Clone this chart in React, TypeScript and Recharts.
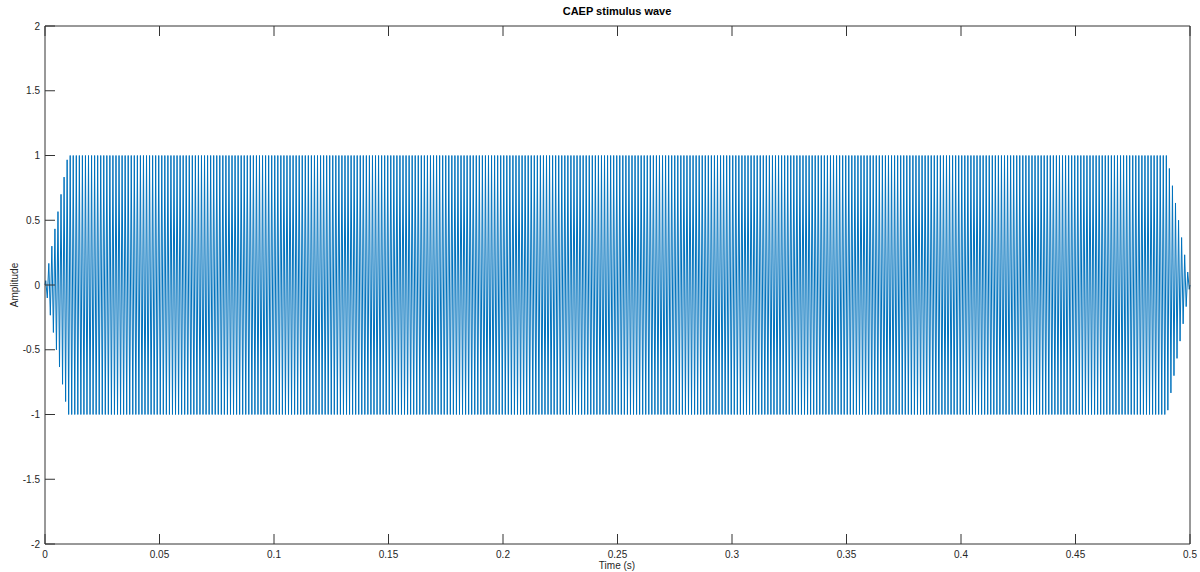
import React from 'react';
import { LineChart, Line, XAxis, YAxis } from 'recharts';

// Axis ticks
const TIME_TICKS = [0, 0.05, 0.1, 0.15, 0.2, 0.25, 0.3, 0.35, 0.4, 0.45, 0.5];
const AMP_TICKS = [-2, -1.5, -1, -0.5, 0, 0.5, 1, 1.5, 2];

// Stimulus envelope: 10 ms linear rise, plateau at 1, 10 ms fall
const ENVELOPE_TIME = [0, 0.01, 0.49, 0.5];
const ENVELOPE_AMP = [0, 1, 1, 0];

// Tone carrier (cycles per second), estimated from line spacing
const TONE_HZ = 750;
const DURATION = 0.5;

const envelopeAt = (t: number) => {
  for (let i = 0; i < ENVELOPE_TIME.length - 1; i++) {
    const t0 = ENVELOPE_TIME[i];
    const t1 = ENVELOPE_TIME[i + 1];
    if (t >= t0 && t <= t1) {
      const f = (t - t0) / (t1 - t0);
      return ENVELOPE_AMP[i] + f * (ENVELOPE_AMP[i + 1] - ENVELOPE_AMP[i]);
    }
  }
  return 0;
};

// peaks of the tone, alternating sign, scaled by the envelope
const halfCycles = Math.round(2 * TONE_HZ * DURATION);
const waveData: { t: number; amp: number }[] = [{ t: 0, amp: 0 }];
for (let k = 0; k < halfCycles; k++) {
  const t = (k + 0.5) / (2 * TONE_HZ);
  waveData.push({ t, amp: (k % 2 === 0 ? 1 : -1) * envelopeAt(t) });
}
waveData.push({ t: DURATION, amp: 0 });

const PLOT_LEFT = 45;
const PLOT_RIGHT = 1190;
const PLOT_TOP = 26;
const PLOT_BOTTOM = 544;
const TICK_LEN = 10;
const AXIS_COLOR = '#333333';
const FONT = '"Liberation Sans", Arial, Helvetica, sans-serif';

const BottomTick = (props: any) => {
  const { x, payload } = props;
  return (
    <g>
      <line x1={x} x2={x} y1={PLOT_BOTTOM} y2={PLOT_BOTTOM - TICK_LEN} stroke={AXIS_COLOR} />
      <text x={x} y={PLOT_BOTTOM + 14} textAnchor="middle" fontSize={10} fontFamily={FONT} fill="#262626">
        {String(payload.value)}
      </text>
    </g>
  );
};

const TopTick = (props: any) => {
  const { x } = props;
  return <line x1={x} x2={x} y1={PLOT_TOP} y2={PLOT_TOP + TICK_LEN} stroke={AXIS_COLOR} />;
};

const LeftTick = (props: any) => {
  const { y, payload } = props;
  return (
    <g>
      <line x1={PLOT_LEFT} x2={PLOT_LEFT + TICK_LEN} y1={y} y2={y} stroke={AXIS_COLOR} />
      <text x={PLOT_LEFT - 5} y={y} dy="0.35em" textAnchor="end" fontSize={10} fontFamily={FONT} fill="#262626">
        {String(payload.value)}
      </text>
    </g>
  );
};

const RightTick = (props: any) => {
  const { y } = props;
  return <line x1={PLOT_RIGHT} x2={PLOT_RIGHT - TICK_LEN} y1={y} y2={y} stroke={AXIS_COLOR} />;
};

export default function App() {
  return (
    <div style={{ position: 'absolute', left: 0, top: 0, width: 1200, height: 572, background: '#fff' }}>
      <LineChart
        width={1200}
        height={572}
        data={waveData}
        margin={{ top: PLOT_TOP - 2, right: 1200 - PLOT_RIGHT - 2, bottom: 572 - PLOT_BOTTOM - 20, left: PLOT_LEFT - 30 }}
      >
        <XAxis
          xAxisId="bottom"
          dataKey="t"
          type="number"
          domain={[0, 0.5]}
          ticks={TIME_TICKS}
          height={20}
          tickLine={false}
          tick={BottomTick}
          stroke={AXIS_COLOR}
          interval={0}
        />
        <XAxis
          xAxisId="top"
          orientation="top"
          dataKey="t"
          type="number"
          domain={[0, 0.5]}
          ticks={TIME_TICKS}
          height={2}
          tickLine={false}
          tick={TopTick}
          stroke={AXIS_COLOR}
          interval={0}
        />
        <YAxis
          yAxisId="left"
          type="number"
          domain={[-2, 2]}
          ticks={AMP_TICKS}
          width={30}
          tickLine={false}
          tick={LeftTick}
          stroke={AXIS_COLOR}
          interval={0}
        />
        <YAxis
          yAxisId="right"
          orientation="right"
          type="number"
          domain={[-2, 2]}
          ticks={AMP_TICKS}
          width={2}
          tickLine={false}
          tick={RightTick}
          stroke={AXIS_COLOR}
          interval={0}
        />
        <Line
          xAxisId="bottom"
          yAxisId="left"
          dataKey="amp"
          type="linear"
          stroke="#0072BD"
          strokeWidth={1}
          dot={false}
          isAnimationActive={false}
        />
      </LineChart>
      <div style={{ position: 'absolute', left: 0, width: 1234, top: 5, textAlign: 'center', fontFamily: FONT, fontSize: 11, fontWeight: 'bold', color: '#000' }}>
        CAEP stimulus wave
      </div>
      <div style={{ position: 'absolute', left: 0, width: 1234, top: 560, textAlign: 'center', fontFamily: FONT, fontSize: 10, color: '#262626' }}>
        Time (s)
      </div>
      <div
        style={{
          position: 'absolute',
          left: 14,
          top: 285,
          transform: 'translate(-50%, -50%) rotate(-90deg)',
          fontFamily: FONT,
          fontSize: 10,
          color: '#262626',
          whiteSpace: 'nowrap',
        }}
      >
        Amplitude
      </div>
    </div>
  );
}
